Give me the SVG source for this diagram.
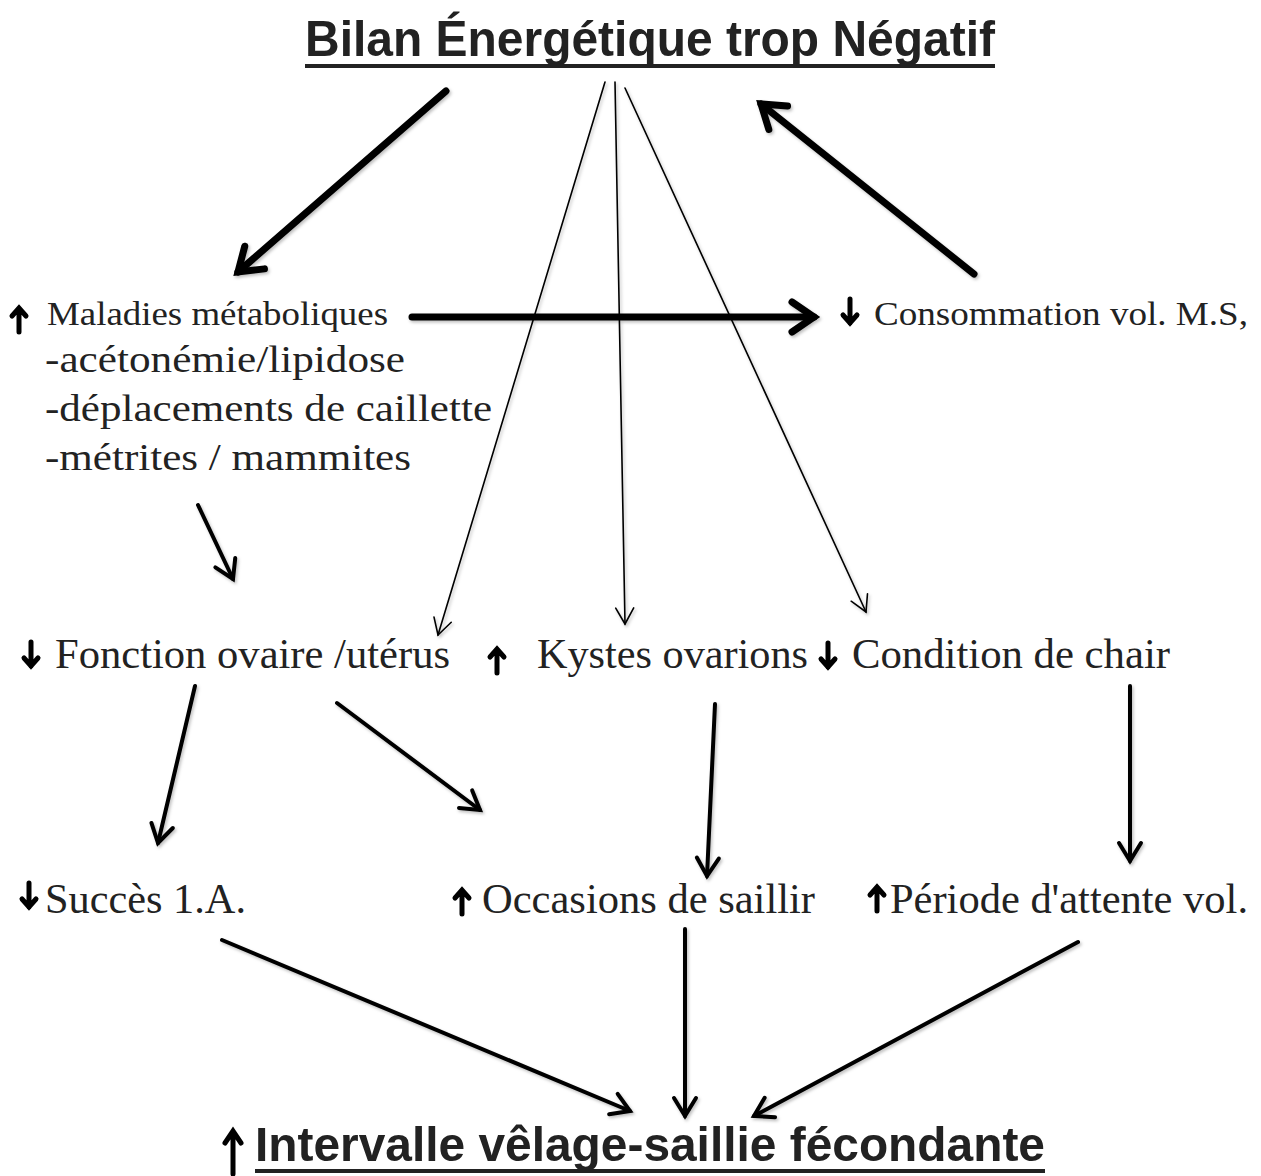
<svg xmlns="http://www.w3.org/2000/svg" width="1261" height="1176" viewBox="0 0 1261 1176">
<style>
.serif{font-family:"Liberation Serif","Times New Roman",serif;fill:#222}
.sans{font-family:"Liberation Sans",Arial,sans-serif;font-weight:bold;fill:#222}
.ul{fill:#222}
.c{fill:none;stroke:#000;stroke-linecap:round}
.thick{stroke-width:7;marker-end:url(#hThick)}
.med{stroke-width:4;marker-end:url(#hMed)}
.thin{stroke-width:1.6;marker-end:url(#hThin)}
.ic{fill:none;stroke:#000;stroke-width:5;stroke-linecap:round;stroke-linejoin:miter}
</style>
<defs>
<filter id="sh" x="-10%" y="-10%" width="130%" height="130%">
<feDropShadow dx="1.5" dy="2" stdDeviation="1.5" flood-color="#000" flood-opacity="0.25"/>
</filter>
<marker id="hThick" markerUnits="userSpaceOnUse" viewBox="-40 -30 60 60" markerWidth="60" markerHeight="60" refX="0" refY="0" orient="auto" overflow="visible">
<path d="M-22,-15 L0,0 L-22,15" fill="none" stroke="#000" stroke-width="7" stroke-linecap="round" stroke-linejoin="miter"/>
</marker>
<marker id="hMed" markerUnits="userSpaceOnUse" viewBox="-40 -30 60 60" markerWidth="60" markerHeight="60" refX="0" refY="0" orient="auto" overflow="visible">
<path d="M-18,-11 L0,0 L-18,11" fill="none" stroke="#000" stroke-width="4" stroke-linecap="round" stroke-linejoin="miter"/>
</marker>
<marker id="hThin" markerUnits="userSpaceOnUse" viewBox="-40 -30 60 60" markerWidth="60" markerHeight="60" refX="0" refY="0" orient="auto" overflow="visible">
<path d="M-16,-9 L0,0 L-16,9" fill="none" stroke="#000" stroke-width="1.6" stroke-linecap="round" stroke-linejoin="miter"/>
</marker>
<g id="icUp"><path class="ic" d="M0,14 L0,-10 M-7,-2 L0,-10 L7,-2"/></g>
<g id="icDown"><path class="ic" d="M0,-14 L0,10 M-7,2 L0,10 L7,2"/></g>
</defs>
<rect width="1261" height="1176" fill="#fff"/>

<g id="title">
<text class="sans" x="305" y="56" font-size="50" textLength="690" lengthAdjust="spacingAndGlyphs">Bilan Énergétique trop Négatif</text>
<rect class="ul" x="305" y="64" width="690" height="4"/>
</g>

<g id="maladies">
<use href="#icUp" x="19" y="318"/>
<text class="serif" x="47" y="325" font-size="34" textLength="341" lengthAdjust="spacingAndGlyphs">Maladies métaboliques</text>
<text class="serif" x="45" y="372" font-size="38" textLength="360" lengthAdjust="spacingAndGlyphs">-acétonémie/lipidose</text>
<text class="serif" x="45" y="421" font-size="38" textLength="447" lengthAdjust="spacingAndGlyphs">-déplacements de caillette</text>
<text class="serif" x="45" y="470" font-size="38" textLength="366" lengthAdjust="spacingAndGlyphs">-métrites / mammites</text>
</g>

<g id="consommation">
<use href="#icDown" x="850" y="313"/>
<text class="serif" x="874" y="325" font-size="34" textLength="374" lengthAdjust="spacingAndGlyphs">Consommation vol. M.S,</text>
</g>

<g id="fonction">
<use href="#icDown" x="31" y="656"/>
<text class="serif" x="55" y="668" font-size="42" textLength="395" lengthAdjust="spacingAndGlyphs">Fonction ovaire /utérus</text>
</g>

<g id="kystes">
<use href="#icUp" x="497" y="659"/>
<text class="serif" x="537" y="668" font-size="42" textLength="271" lengthAdjust="spacingAndGlyphs">Kystes ovarions</text>
</g>

<g id="condition">
<use href="#icDown" x="828" y="657"/>
<text class="serif" x="852" y="668" font-size="42" textLength="318" lengthAdjust="spacingAndGlyphs">Condition de chair</text>
</g>

<g id="succes">
<use href="#icDown" x="29" y="897"/>
<text class="serif" x="45" y="913" font-size="42" textLength="201" lengthAdjust="spacingAndGlyphs">Succès 1.A.</text>
</g>

<g id="occasions">
<use href="#icUp" x="462" y="900"/>
<text class="serif" x="482" y="913" font-size="42" textLength="333" lengthAdjust="spacingAndGlyphs">Occasions de saillir</text>
</g>

<g id="periode">
<use href="#icUp" x="877" y="897"/>
<text class="serif" x="890" y="913" font-size="42" textLength="358" lengthAdjust="spacingAndGlyphs">Période d'attente vol.</text>
</g>

<g id="intervalle">
<path class="ic" d="M233,1174 L233,1132 M225,1143 L233,1131 L241,1143" stroke-width="3"/>
<text class="sans" x="255" y="1161" font-size="49" textLength="790" lengthAdjust="spacingAndGlyphs">Intervalle vêlage-saillie fécondante</text>
<rect class="ul" x="255" y="1169" width="790" height="4"/>
</g>

<g id="connectors" filter="url(#sh)">
<path id="c1" class="c thick" d="M446,91 L238,272"/>
<path id="c2" class="c thick" d="M974,274 L761,104"/>
<path id="c3" class="c thick" d="M412,317 L814,317"/>
<path id="c4" class="c thin" d="M605,82 L438,635"/>
<path id="c5" class="c thin" d="M615,82 L625,624"/>
<path id="c6" class="c thin" d="M625,88 L866,612"/>
<path id="c7" class="c med" d="M198,505 L233,579"/>
<path id="c8" class="c med" d="M195,686 L158,843"/>
<path id="c9" class="c med" d="M337,703 L480,810"/>
<path id="c10" class="c med" d="M715,704 L707,876"/>
<path id="c11" class="c med" d="M1130,686 L1130,861"/>
<path id="c12" class="c med" d="M222,940 L630,1111"/>
<path id="c13" class="c med" d="M685,929 L685,1116"/>
<path id="c14" class="c med" d="M1078,942 L754,1116"/>
</g>
</svg>
